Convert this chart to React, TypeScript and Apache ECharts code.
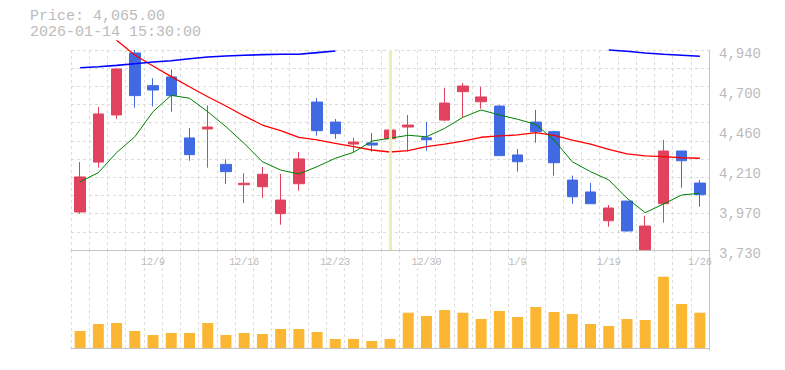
import React, { useEffect, useRef } from "react";
import * as echarts from "echarts";

const categories = [
  "12/3", "12/4", "12/5", "12/8", "12/9", "12/10", "12/11", "12/12", "12/15", "12/16",
  "12/17", "12/18", "12/19", "12/22", "12/23", "12/24", "12/25", "12/26", "12/29", "12/30",
  "1/5", "1/6", "1/7", "1/8", "1/9", "1/13", "1/14", "1/15", "1/16", "1/19",
  "1/20", "1/21", "1/22", "1/23", "1/26",
];

const opens = [3960, 4262, 4547, 4922, 4724, 4777, 4408, 4462, 4248, 4125, 4113, 3950, 4131, 4625, 4504, 4371, 4377, 4403, 4474, 4409, 4516, 4688, 4627, 4601, 4305, 4504, 4446, 4153, 4081, 3907, 4026, 3732, 4010, 4329, 4135];
const closes = [4172, 4553, 4825, 4664, 4698, 4664, 4307, 4474, 4204, 4134, 4188, 4032, 4281, 4452, 4434, 4383, 4365, 4456, 4486, 4397, 4619, 4722, 4656, 4301, 4264, 4446, 4258, 4052, 4010, 3984, 3845, 3875, 4329, 4270, 4065];
const lows = [3950, 4228, 4523, 4591, 4599, 4567, 4270, 4228, 4131, 4014, 4046, 3883, 4089, 4422, 4403, 4323, 4325, 4385, 4325, 4331, 4510, 4533, 4585, 4298, 4204, 4379, 4180, 4010, 4010, 3871, 3841, 3730, 3895, 4107, 3992];
const highs = [4262, 4595, 4830, 4940, 4769, 4823, 4468, 4605, 4279, 4194, 4232, 4190, 4323, 4650, 4523, 4409, 4438, 4504, 4547, 4504, 4710, 4740, 4718, 4607, 4341, 4577, 4452, 4180, 4135, 4002, 4026, 3937, 4396, 4329, 4153];

const maShort = [4143, 4198, 4319, 4415, 4567, 4666, 4648, 4567, 4476, 4375, 4264, 4214, 4190, 4234, 4285, 4321, 4389, 4406, 4424, 4415, 4466, 4533, 4577, 4547, 4521, 4490, 4395, 4264, 4204, 4154, 4043, 3956, 4008, 4063, 4073];
const maMid = [null, null, 4999, 4910, 4843, 4779, 4718, 4657, 4601, 4541, 4486, 4452, 4412, 4396, 4375, 4355, 4335, 4323, 4331, 4355, 4371, 4389, 4412, 4420, 4426, 4440, 4424, 4395, 4371, 4339, 4311, 4299, 4295, 4288, 4285];
const maLong = [4833, 4839, 4847, 4857, 4867, 4875, 4887, 4898, 4904, 4908, 4912, 4914, 4914, 4924, 4934, null, null, null, null, null, null, null, null, null, null, null, null, null, null, 4940, 4932, 4922, 4914, 4908, 4902];

const volumes = [170, 240, 250, 170, 130, 150, 150, 250, 130, 150, 140, 190, 190, 160, 90, 90, 70, 90, 353, 320, 380, 353, 290, 370, 310, 410, 360, 340, 240, 220, 290, 280, 713, 440, 353];

const yTickLabels = ["3,730", "3,970", "4,210", "4,460", "4,700", "4,940"];
const priceMin = 3730;
const priceMax = 4940;
const highlightIndex = 17;
const headerPrice = "Price: 4,065.00";
const headerDate = "2026-01-14 15:30:00";

const MONO = '"Liberation Mono", "DejaVu Sans Mono", monospace';
const GRID_DASH = { color: "#dcdcdc", type: [3, 3] as any, width: 1 };
const AXIS_LINE = { color: "#c4c4c4", width: 1 };
const LABEL_COLOR = "#bbbbbb";

export default function App() {
  const ref = useRef<HTMLDivElement>(null);

  useEffect(() => {
    if (!ref.current) return;
    const chart = echarts.init(ref.current, null, { renderer: "svg" });
    const candleData = categories.map((_, i) => [opens[i], closes[i], lows[i], highs[i]]);

    chart.setOption({
      animation: false,
      backgroundColor: "#ffffff",
      graphic: [
        { type: "text", left: 30, top: 9, style: { text: headerPrice, fill: LABEL_COLOR, font: `15px ${MONO}` } },
        { type: "text", left: 30, top: 25, style: { text: headerDate, fill: LABEL_COLOR, font: `15px ${MONO}` } },
      ],
      grid: [
        { left: 71, right: 76, top: 50, height: 200 },
        { left: 71, right: 76, top: 250, height: 100 },
      ],
      xAxis: [
        {
          type: "category",
          gridIndex: 0,
          data: categories,
          boundaryGap: true,
          axisLine: { show: true, lineStyle: AXIS_LINE },
          axisTick: { show: false, interval: 0 },
          axisLabel: {
            interval: (i: number) => i % 5 === 4,
            color: LABEL_COLOR,
            fontSize: 10,
            fontFamily: MONO,
            margin: 7,
          },
          splitLine: { show: true, interval: 0, lineStyle: GRID_DASH },
        },
        {
          type: "category",
          gridIndex: 1,
          data: categories,
          boundaryGap: true,
          axisLine: { show: true, lineStyle: AXIS_LINE },
          axisTick: { show: false },
          axisLabel: { show: false },
          splitLine: { show: true, interval: 0, lineStyle: GRID_DASH },
        },
      ],
      yAxis: [
        {
          type: "value",
          gridIndex: 0,
          min: priceMin,
          max: priceMax,
          show: false,
          splitLine: { show: false },
        },
        {
          type: "value",
          gridIndex: 0,
          min: 0,
          max: 11,
          interval: 1,
          position: "left",
          axisLine: { show: false },
          axisTick: { show: false },
          axisLabel: { show: false },
          splitLine: { show: true, lineStyle: GRID_DASH },
        },
        {
          type: "value",
          gridIndex: 0,
          min: 0,
          max: 5,
          interval: 1,
          position: "right",
          axisLine: { show: true, lineStyle: AXIS_LINE },
          axisTick: { show: false },
          splitLine: { show: false },
          axisLabel: {
            formatter: (v: number) => yTickLabels[Math.round(v)] ?? "",
            color: LABEL_COLOR,
            fontSize: 14,
            fontFamily: MONO,
            margin: 10,
            verticalAlign: "top",
            lineHeight: 8,
          },
        },
        {
          type: "value",
          gridIndex: 1,
          min: -20,
          max: 980,
          position: "right",
          axisLine: { show: true, lineStyle: AXIS_LINE },
          axisTick: { show: false },
          axisLabel: { show: false },
          splitLine: { show: false },
        },
      ],
      series: [
        {
          type: "line",
          xAxisIndex: 0,
          yAxisIndex: 0,
          data: categories.map(() => null),
          z: 1,
          silent: true,
          markLine: {
            silent: true,
            symbol: ["none", "none"],
            label: { show: false },
            lineStyle: { color: "#e6f1b3", width: 3, type: "solid" },
            data: [{ xAxis: categories[highlightIndex] }],
          },
        },
        {
          type: "candlestick",
          xAxisIndex: 0,
          yAxisIndex: 0,
          data: candleData,
          barWidth: 11,
          z: 2,
          itemStyle: {
            color: "#e1435f",
            color0: "#4169e1",
            borderColor: "#e1435f",
            borderColor0: "#4169e1",
            borderWidth: 1,
          },
        },
        {
          type: "line",
          xAxisIndex: 0,
          yAxisIndex: 0,
          data: maMid,
          symbol: "none",
          clip: false,
          connectNulls: false,
          z: 3,
          lineStyle: { color: "#ff0000", width: 1.3 },
        },
        {
          type: "line",
          xAxisIndex: 0,
          yAxisIndex: 0,
          data: maShort,
          symbol: "none",
          clip: false,
          z: 3,
          lineStyle: { color: "#008000", width: 1 },
        },
        {
          type: "line",
          xAxisIndex: 0,
          yAxisIndex: 0,
          data: maLong,
          symbol: "none",
          clip: false,
          connectNulls: false,
          z: 3,
          lineStyle: { color: "#0000ff", width: 1.6 },
        },
        {
          type: "bar",
          xAxisIndex: 1,
          yAxisIndex: 3,
          data: volumes,
          barWidth: 11,
          itemStyle: { color: "#fbb733" },
        },
      ],
    });

    return () => chart.dispose();
  }, []);

  return (
    <div
      ref={ref}
      style={{ position: "fixed", left: 0, top: 0, width: 785, height: 370, background: "#fff" }}
    />
  );
}
